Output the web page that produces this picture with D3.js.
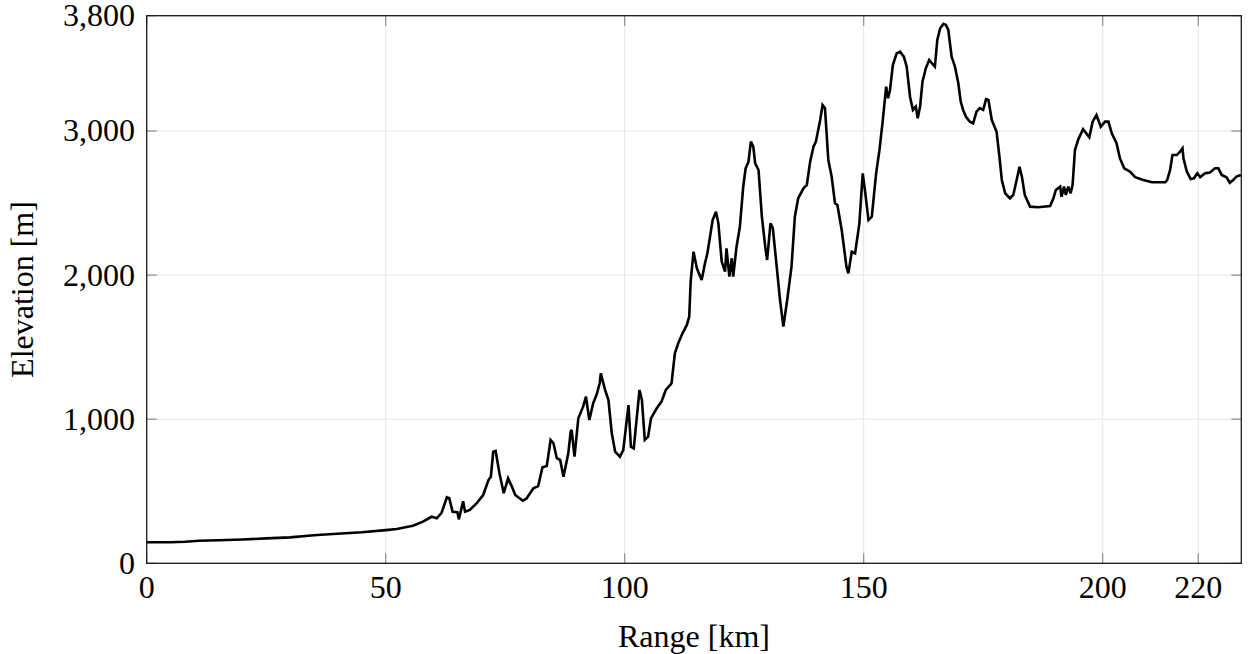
<!DOCTYPE html>
<html>
<head>
<meta charset="utf-8">
<script src="https://cdn.jsdelivr.net/npm/d3@7"></script>
<style>
  html, body { margin: 0; padding: 0; background: #fff; }
  svg { display: block; font-family: "Liberation Serif", "DejaVu Serif", serif; }
</style>
</head>
<body>
<div id="chart"></div>
<script>
// ── DATA ─────────────────────────────────────
const rangeKm = [
  0, 5, 8, 11, 15, 20, 25, 30, 35, 39, 45, 50, 52.3, 55.7, 57.8, 59.6, 60.7, 61.7, 62.8, 63.3,
  64.0, 65.0, 65.3, 66.2, 66.6, 67.6, 69.0, 70.4, 71.5, 72.0, 72.5, 73.0, 73.8, 74.7, 75.6, 76.4,
  77.1, 78.7, 79.5, 80.9, 81.9, 82.8, 83.7, 84.5, 85.1, 85.8, 86.5, 87.2, 88.2, 88.7, 88.9, 89.5,
  90.3, 91.3, 91.9, 92.6, 93.4, 94.1, 94.8, 95.0, 95.9, 96.6, 97.3, 98.0, 99.0, 99.7, 100.8, 101.3,
  101.9, 103.1, 103.6, 104.2, 104.9, 105.5, 106.7, 107.7, 108.6, 109.5, 109.8, 110.5, 111.2, 112.1,
  113.0, 113.5, 113.8, 114.4, 115.1, 116.1, 116.8, 117.3, 118.4, 119.1, 119.6, 120.3, 121.0, 121.3,
  121.9, 122.4, 122.7, 123.4, 124.1, 124.8, 125.3, 125.9, 126.4, 126.9, 127.3, 128.0, 128.7, 129.4,
  129.8, 130.5, 131.0, 131.8, 132.5, 133.2, 134.0, 134.9, 135.6, 136.3, 137.4, 138.1, 138.8, 139.5,
  140.0, 140.9, 141.4, 141.9, 142.6, 143.3, 144.0, 144.5, 145.4, 146.4, 146.8, 147.5, 148.2, 149.1,
  149.8, 150.3, 151.0, 151.7, 152.6, 153.3, 154.0, 154.7, 155.1, 155.5, 156.1, 156.9, 157.6, 158.4,
  159.0, 159.7, 160.3, 160.9, 161.3, 161.8, 162.3, 163.0, 163.7, 164.4, 164.9, 165.4, 166.0, 166.7,
  167.2, 167.7, 168.4, 169.1, 169.8, 170.3, 170.8, 171.4, 172.2, 172.9, 173.6, 174.3, 175.0, 175.6,
  176.1, 176.8, 177.8, 178.4, 178.9, 179.6, 180.6, 181.3, 182.0, 182.6, 183.1, 183.7, 184.8, 186.5,
  189.0, 189.7, 190.2, 191.1, 191.4, 191.9, 192.3, 192.8, 193.3, 193.7, 194.2, 194.9, 195.9, 197.2,
  197.9, 198.7, 199.6, 200.5, 201.2, 201.9, 202.9, 203.6, 204.5, 205.7, 206.8, 208.5, 210.3, 213.1,
  213.5, 214.1, 214.6, 215.5, 216.2, 216.7, 216.9, 217.6, 218.4, 219.1, 219.8, 220.4, 221.4, 222.4,
  223.5, 224.2, 224.9, 225.9, 226.6, 227.3, 228.0, 228.9
];

const elevationM = [
  146, 146, 150, 157, 160, 165, 173, 180, 195, 203, 215, 230, 238, 261, 289, 323, 312, 351, 458, 451,
  358, 354, 305, 430, 358, 370, 416, 474, 578, 601, 774, 779, 625, 486, 590, 532,
  474, 434, 451, 520, 536, 666, 675, 856, 833, 729, 717, 601, 763, 913, 925, 740,
  1006, 1087, 1156, 994, 1110, 1168, 1253, 1318, 1203, 1133, 902, 775, 740, 786, 1098, 809,
  798, 1203, 1133, 856, 879, 1006, 1076, 1122, 1203, 1237, 1249, 1457, 1527, 1596,
  1654, 1711, 1954, 2162, 2047, 1966, 2082, 2151, 2382, 2440, 2359, 2093, 2024, 2186,
  1989, 2117, 1989, 2197, 2336, 2613, 2741, 2787, 2926, 2891, 2776, 2729, 2405, 2197,
  2105, 2359, 2325, 2058, 1827, 1642, 1827, 2058, 2405, 2533, 2602, 2625, 2787, 2891,
  2926, 3076, 3180, 3158, 2799, 2683, 2498, 2486, 2313, 2058, 2012, 2162, 2151, 2359,
  2706, 2579, 2382, 2405, 2706, 2868, 3076, 3307, 3227, 3283, 3458, 3539, 3550, 3516,
  3446, 3238, 3146, 3169, 3088, 3169, 3342, 3435, 3493, 3465, 3446, 3632, 3713, 3743,
  3736, 3701, 3516, 3446, 3331, 3204, 3146, 3099, 3065, 3053, 3134, 3158, 3146, 3221,
  3215, 3076, 2995, 2822, 2660, 2568, 2533, 2556, 2660, 2752, 2683, 2556, 2475, 2471,
  2479, 2533, 2591, 2614, 2544, 2614, 2556, 2614, 2568, 2625, 2868, 2942, 3012, 2956,
  3065, 3111, 3030, 3065, 3065, 2984, 2915, 2811, 2741, 2718, 2679, 2660, 2644, 2644,
  2660, 2729, 2833, 2833, 2856, 2879, 2811, 2718, 2667, 2672, 2706, 2679, 2706, 2711,
  2741, 2741, 2695, 2679, 2641, 2660, 2683, 2695
];

const xTicks = [0, 50, 100, 150, 200, 220];
const yTicks = [0, 1000, 2000, 3000, 3800];
const xLabel = 'Range [km]';
const yLabel = 'Elevation [m]';

// ── LAYOUT ───────────────────────────────────
const W = 1248, H = 654;
const M = { l: 146.7, r: 1241.3, t: 15.7, b: 563.3 };
const TICK = 10;

const svg = d3.select('#chart').append('svg')
  .attr('width', W)
  .attr('height', H);

const x = d3.scaleLinear().domain([0, 229]).range([M.l, M.r]);
const y = d3.scaleLinear().domain([0, 3800]).range([M.b, M.t]);
const fmt = d3.format(',');

// ── grid
svg.append('g')
  .selectAll('line.gx')
  .data(xTicks)
  .join('line')
  .attr('x1', d => x(d)).attr('x2', d => x(d))
  .attr('y1', M.t).attr('y2', M.b)
  .attr('stroke', '#e6e6e6')
  .attr('stroke-width', 1);

svg.append('g')
  .selectAll('line.gy')
  .data(yTicks)
  .join('line')
  .attr('x1', M.l).attr('x2', M.r)
  .attr('y1', d => y(d)).attr('y2', d => y(d))
  .attr('stroke', '#e6e6e6')
  .attr('stroke-width', 1);

// ── inward ticks on all four sides
const tickG = svg.append('g')
  .attr('stroke', '#8c8c8c')
  .attr('stroke-width', 1.2);

xTicks.forEach(t => {
  tickG.append('line')
    .attr('x1', x(t)).attr('x2', x(t))
    .attr('y1', M.b).attr('y2', M.b - TICK);
  tickG.append('line')
    .attr('x1', x(t)).attr('x2', x(t))
    .attr('y1', M.t).attr('y2', M.t + TICK);
});

yTicks.forEach(t => {
  tickG.append('line')
    .attr('x1', M.l).attr('x2', M.l + TICK)
    .attr('y1', y(t)).attr('y2', y(t));
  tickG.append('line')
    .attr('x1', M.r).attr('x2', M.r - TICK)
    .attr('y1', y(t)).attr('y2', y(t));
});

// ── elevation profile
const pts = rangeKm.map((r, i) => [r, elevationM[i]]);

const line = d3.line()
  .x(d => x(d[0]))
  .y(d => y(d[1]));

svg.append('path')
  .datum(pts)
  .attr('d', line)
  .attr('fill', 'none')
  .attr('stroke', '#000')
  .attr('stroke-width', 2.6)
  .attr('stroke-linejoin', 'miter')
  .attr('stroke-miterlimit', 3);

// ── frame
svg.append('rect')
  .attr('x', M.l).attr('y', M.t)
  .attr('width', M.r - M.l)
  .attr('height', M.b - M.t)
  .attr('fill', 'none')
  .attr('stroke', '#1a1a1a')
  .attr('stroke-width', 1.3);

// ── tick labels
svg.append('g')
  .selectAll('text')
  .data(xTicks)
  .join('text')
  .attr('x', d => x(d))
  .attr('y', 598)
  .attr('text-anchor', 'middle')
  .attr('font-size', 32)
  .attr('fill', '#000')
  .text(d => fmt(d));

svg.append('g')
  .selectAll('text')
  .data(yTicks)
  .join('text')
  .attr('x', 135)
  .attr('y', d => y(d) + 10.5)
  .attr('text-anchor', 'end')
  .attr('font-size', 32)
  .attr('fill', '#000')
  .text(d => fmt(d));

// ── axis labels
svg.append('text')
  .attr('x', (M.l + M.r) / 2)
  .attr('y', 647)
  .attr('text-anchor', 'middle')
  .attr('font-size', 32)
  .text(xLabel);

svg.append('text')
  .attr('transform', `translate(33,${(M.t + M.b) / 2}) rotate(-90)`)
  .attr('text-anchor', 'middle')
  .attr('font-size', 32)
  .text(yLabel);
</script>
</body>
</html>
